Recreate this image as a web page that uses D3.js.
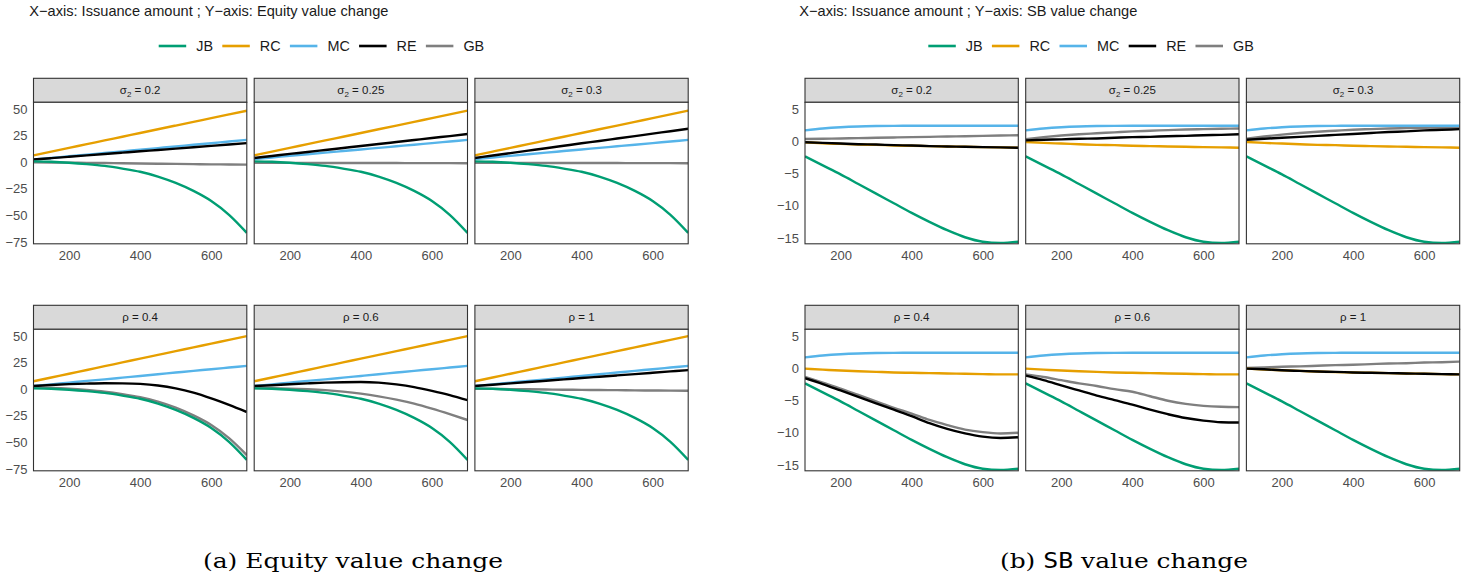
<!DOCTYPE html>
<html>
<head>
<meta charset="utf-8">
<script src="https://cdn.jsdelivr.net/npm/d3@7"></script>
<style>
  body { margin: 0; background: #fff; }
  text { font-family: "Liberation Sans", Arial, sans-serif; }
</style>
</head>
<body>
<svg id="chart"></svg>
<script>
// issuance amounts on the x axis
var issuance = [100, 150, 200, 250, 300, 350, 400, 450, 500, 550, 600, 650, 700];
var seriesKeys = ["JB", "RC", "MC", "RE", "GB"];
var sigmaLabels = ["0.2", "0.25", "0.3"];
var rhoLabels = ["0.4", "0.6", "1"];
var equityTicks = [-75, -50, -25, 0, 25, 50];
var sbTicks = [-15, -10, -5, 0, 5];
var xTicks = [200, 400, 600];

// ---- Equity value change ----
var eqJB = [0.8, 0.4, -0.5, -1.8, -3.5, -6, -9, -13.5, -19.5, -27, -36.5, -49.5, -66.5];
var eqRC = [6.5, 10, 13.5, 17, 20.5, 24, 27.5, 31, 34.5, 38, 41.5, 45, 48.5];
var eqRCrho = [7.5, 11, 14.6, 18.1, 21.7, 25.2, 28.8, 32.3, 35.8, 39.4, 42.9, 46.5, 50];
var eqMC = [2.5, 4, 5.6, 7.1, 8.7, 10.2, 11.8, 13.3, 14.8, 16.4, 17.9, 19.5, 21];
var eqMCrho = [3, 4.6, 6.2, 7.8, 9.3, 10.9, 12.5, 14.1, 15.7, 17.3, 18.8, 20.4, 22];

var eqSigma02 = {
  JB: eqJB, RC: eqRC, MC: eqMC,
  RE: [2.5, 3.8, 5.1, 6.4, 7.7, 9, 10.3, 11.5, 12.8, 14.1, 15.4, 16.7, 18],
  GB: [0, -0.2, -0.4, -0.6, -0.8, -1, -1.2, -1.4, -1.6, -1.8, -2, -2.1, -2.3]
};
var eqSigma025 = {
  JB: eqJB, RC: eqRC,
  MC: [3, 4.5, 6, 7.5, 9, 10.5, 12, 13.5, 15, 16.5, 18, 19.5, 21],
  RE: [4, 5.9, 7.8, 9.6, 11.5, 13.4, 15.3, 17.1, 19, 20.9, 22.8, 24.6, 26.5],
  GB: [-0.5, -0.6, -0.6, -0.7, -0.7, -0.7, -0.8, -0.8, -0.8, -0.9, -0.9, -0.9, -1]
};
var eqSigma03 = {
  JB: eqJB, RC: eqRC,
  MC: [3, 4.5, 6, 7.5, 9, 10.5, 12, 13.5, 15, 16.5, 18, 19.5, 21],
  RE: [4, 6.3, 8.6, 10.9, 13.2, 15.5, 17.8, 20, 22.3, 24.6, 26.9, 29.2, 31.5],
  GB: [-0.5, -0.6, -0.6, -0.7, -0.7, -0.7, -0.8, -0.8, -0.8, -0.9, -0.9, -0.9, -1]
};
var eqRho04 = {
  JB: eqJB, RC: eqRCrho, MC: eqMCrho,
  RE: [3, 4, 4.8, 5.3, 5.6, 5.5, 5, 3.5, 0.8, -3.2, -8.6, -14.8, -21.5],
  GB: [1.5, 1.2, 0.5, -0.7, -2.3, -4.6, -7.5, -11.6, -17.3, -24.6, -33.6, -46, -62]
};
var eqRho06 = {
  JB: eqJB, RC: eqRCrho, MC: eqMCrho,
  RE: [3, 3.8, 4.7, 5.5, 6.2, 6.6, 6.8, 6.2, 4.5, 2, -1.5, -5.5, -10.3],
  GB: [1, 0.9, 0.6, 0, -0.9, -2.3, -4.2, -6.7, -9.8, -13.6, -18.3, -23.5, -29]
};
var eqRho1 = {
  JB: eqJB, RC: eqRCrho, MC: eqMCrho,
  RE: [3, 4.25, 5.5, 6.75, 8, 9.25, 10.5, 11.75, 13, 14.25, 15.5, 16.75, 18],
  GB: [0.5, 0.3, 0.1, -0.1, -0.3, -0.5, -0.6, -0.8, -0.9, -1.1, -1.2, -1.3, -1.5]
};

// ---- SB value change ----
var sbJB = [-2.3, -3.7, -5.1, -6.6, -8.1, -9.6, -11.1, -12.5, -13.8, -14.9, -15.6, -15.8, -15.6];
var sbMC = [1.75, 2.05, 2.25, 2.37, 2.43, 2.46, 2.47, 2.48, 2.48, 2.48, 2.48, 2.48, 2.48];
var sbRC = [-0.05, -0.2, -0.3, -0.4, -0.5, -0.55, -0.65, -0.7, -0.75, -0.8, -0.85, -0.9, -0.95];

var sbSigma02 = {
  JB: sbJB, MC: sbMC,
  RC: [-0.1, -0.25, -0.35, -0.45, -0.5, -0.6, -0.65, -0.7, -0.75, -0.8, -0.85, -0.9, -0.95],
  RE: [-0.1, -0.2, -0.3, -0.4, -0.45, -0.55, -0.6, -0.7, -0.75, -0.8, -0.85, -0.9, -0.95],
  GB: [0.4, 0.45, 0.5, 0.55, 0.6, 0.65, 0.7, 0.75, 0.8, 0.85, 0.9, 0.95, 1.0]
};
var sbSigma025 = {
  JB: sbJB, MC: sbMC, RC: sbRC,
  RE: [0.2, 0.3, 0.35, 0.45, 0.5, 0.6, 0.7, 0.75, 0.85, 0.9, 1.0, 1.05, 1.15],
  GB: [0.4, 0.7, 0.95, 1.15, 1.3, 1.45, 1.6, 1.7, 1.8, 1.9, 1.95, 2.0, 2.05]
};
var sbSigma03 = {
  JB: sbJB, MC: sbMC, RC: sbRC,
  RE: [0.3, 0.45, 0.6, 0.75, 0.9, 1.05, 1.2, 1.35, 1.5, 1.6, 1.75, 1.85, 1.95],
  GB: [0.45, 0.8, 1.1, 1.35, 1.55, 1.7, 1.85, 1.95, 2.05, 2.1, 2.15, 2.2, 2.25]
};
var sbRho04 = {
  JB: sbJB, MC: sbMC,
  RC: [0, -0.15, -0.3, -0.4, -0.5, -0.6, -0.65, -0.7, -0.75, -0.8, -0.85, -0.9, -0.9],
  RE: [-1.5, -2.4, -3.4, -4.4, -5.4, -6.4, -7.4, -8.5, -9.4, -10.1, -10.6, -10.8, -10.7],
  GB: [-1.3, -2.2, -3.1, -4.1, -5.1, -6.1, -7.0, -8.0, -8.8, -9.5, -9.9, -10.1, -10.0]
};
var sbRho06 = {
  JB: sbJB, MC: sbMC,
  RC: [0, -0.15, -0.3, -0.4, -0.5, -0.6, -0.65, -0.7, -0.75, -0.8, -0.85, -0.9, -0.9],
  RE: [-1.1, -1.8, -2.6, -3.4, -4.2, -4.9, -5.6, -6.4, -7.1, -7.7, -8.1, -8.35, -8.4],
  GB: [-0.9, -1.3, -1.8, -2.3, -2.7, -3.2, -3.6, -4.3, -5.0, -5.5, -5.8, -5.95, -6.0]
};
var sbRho1 = {
  JB: sbJB, MC: sbMC,
  RC: [0, -0.15, -0.25, -0.35, -0.45, -0.55, -0.6, -0.65, -0.7, -0.75, -0.8, -0.85, -0.9],
  RE: [0, -0.1, -0.25, -0.35, -0.45, -0.5, -0.6, -0.65, -0.7, -0.75, -0.8, -0.85, -0.9],
  GB: [0.1, 0.2, 0.3, 0.35, 0.45, 0.55, 0.6, 0.7, 0.8, 0.85, 0.95, 1.0, 1.1]
};

var width = 1472, height = 581;
var colors = { JB: "#009E73", RC: "#E69F00", MC: "#56B4E9", RE: "#000000", GB: "#7F7F7F" };
var drawOrder = ["GB", "RC", "MC", "RE", "JB"];

var panelW = 213.3, panelStep = 220.7;
var stripH = 24, plotH = 141.5;
var rowTops = [78.3, 305.3];

var figures = [
  {
    x0: 33.5, titleX: 29.3, legendX: 158.7,
    title: "X\u2212axis: Issuance amount ; Y\u2212axis: Equity value change",
    yDomain: [-76.8, 56.4], yTicks: equityTicks,
    rows: [[eqSigma02, eqSigma025, eqSigma03], [eqRho04, eqRho06, eqRho1]]
  },
  {
    x0: 805, titleX: 799.3, legendX: 928.3,
    title: "X\u2212axis: Issuance amount ; Y\u2212axis: SB value change",
    yDomain: [-15.92, 6.13], yTicks: sbTicks,
    rows: [[sbSigma02, sbSigma025, sbSigma03], [sbRho04, sbRho06, sbRho1]]
  }
];

var svg = d3.select("#chart")
  .attr("width", width)
  .attr("height", height);

svg.append("rect").attr("width", width).attr("height", height).attr("fill", "#fff");

var clipId = 0;

figures.forEach(function (fig) {
  // title
  svg.append("text")
    .attr("x", fig.titleX)
    .attr("y", 16)
    .attr("font-size", 14.6)
    .attr("fill", "#1a1a1a")
    .text(fig.title);

  // legend, laid out left to right
  var lx = fig.legendX;
  seriesKeys.forEach(function (k) {
    svg.append("line")
      .attr("x1", lx).attr("x2", lx + 27.5)
      .attr("y1", 46).attr("y2", 46)
      .attr("stroke", colors[k])
      .attr("stroke-width", 2.6);
    var t = svg.append("text")
      .attr("x", lx + 37.5)
      .attr("y", 51)
      .attr("font-size", 14.4)
      .attr("fill", "#1a1a1a")
      .text(k);
    lx = lx + 37.5 + t.node().getComputedTextLength() + 9.3;
  });

  fig.rows.forEach(function (row, ri) {
    var top = rowTops[ri];
    row.forEach(function (panel, ci) {
      var left = fig.x0 + ci * panelStep;
      var plotTop = top + stripH;

      var x = d3.scaleLinear().domain([100, 700]).range([left, left + panelW]);
      var y = d3.scaleLinear().domain(fig.yDomain).range([plotTop + plotH, plotTop]);

      // strip
      svg.append("rect")
        .attr("x", left).attr("y", top)
        .attr("width", panelW).attr("height", stripH)
        .attr("fill", "#D9D9D9")
        .attr("stroke", "#333333")
        .attr("stroke-width", 1.1);

      var st = svg.append("text")
        .attr("x", left + panelW / 2)
        .attr("y", top + stripH / 2 + 4)
        .attr("text-anchor", "middle")
        .attr("font-size", 11.5)
        .attr("fill", "#1a1a1a");
      if (ri === 0) {
        st.append("tspan").text("\u03c3");
        st.append("tspan").attr("font-size", 8).attr("dy", 3).text("2");
        st.append("tspan").attr("dy", -3).text(" = " + sigmaLabels[ci]);
      } else {
        st.append("tspan").text("\u03c1 = " + rhoLabels[ci]);
      }

      // panel background
      svg.append("rect")
        .attr("x", left).attr("y", plotTop)
        .attr("width", panelW).attr("height", plotH)
        .attr("fill", "#fff");

      clipId++;
      svg.append("clipPath").attr("id", "clip" + clipId)
        .append("rect")
        .attr("x", left).attr("y", plotTop)
        .attr("width", panelW).attr("height", plotH);

      var line = d3.line()
        .x(function (d, i) { return x(issuance[i]); })
        .y(function (d) { return y(d); })
        .curve(d3.curveMonotoneX);

      var g = svg.append("g").attr("clip-path", "url(#clip" + clipId + ")");
      drawOrder.forEach(function (k) {
        g.append("path")
          .datum(panel[k])
          .attr("d", line)
          .attr("fill", "none")
          .attr("stroke", colors[k])
          .attr("stroke-width", 2.4)
          .attr("stroke-linejoin", "round");
      });

      // border
      svg.append("rect")
        .attr("x", left).attr("y", plotTop)
        .attr("width", panelW).attr("height", plotH)
        .attr("fill", "none")
        .attr("stroke", "#333333")
        .attr("stroke-width", 1.1);

      // x axis
      var xa = svg.append("g")
        .attr("transform", "translate(0," + (plotTop + plotH) + ")")
        .call(d3.axisBottom(x).tickValues(xTicks).tickSize(0).tickPadding(7));
      xa.select(".domain").remove();
      xa.selectAll("text")
        .attr("font-size", 13)
        .attr("font-family", "Liberation Sans, Arial, sans-serif")
        .attr("fill", "#4D4D4D");

      // y axis only on the first column
      if (ci === 0) {
        var ya = svg.append("g")
          .attr("transform", "translate(" + left + ",0)")
          .call(d3.axisLeft(y).tickValues(fig.yTicks).tickSize(0).tickPadding(6));
        ya.select(".domain").remove();
        ya.selectAll("text")
          .attr("font-size", 13)
          .attr("font-family", "Liberation Sans, Arial, sans-serif")
          .attr("fill", "#4D4D4D");
      }
    });
  });
});

// sub-figure captions
svg.append("text")
  .attr("x", 203)
  .attr("y", 568)
  .attr("font-size", 21)
  .style("font-family", "'DejaVu Serif', serif")
  .attr("fill", "#000")
  .attr("textLength", 300)
  .attr("lengthAdjust", "spacingAndGlyphs")
  .text("(a) Equity value change");

var capB = svg.append("text")
  .attr("x", 1000)
  .attr("y", 568)
  .attr("font-size", 21)
  .style("font-family", "'DejaVu Serif', serif")
  .attr("fill", "#000")
  .attr("textLength", 248)
  .attr("lengthAdjust", "spacingAndGlyphs");
capB.append("tspan").text("(b) ");
capB.append("tspan").style("font-family", "'DejaVu Sans Mono', monospace").text("SB");
capB.append("tspan").text(" value change");
</script>
</body>
</html>
